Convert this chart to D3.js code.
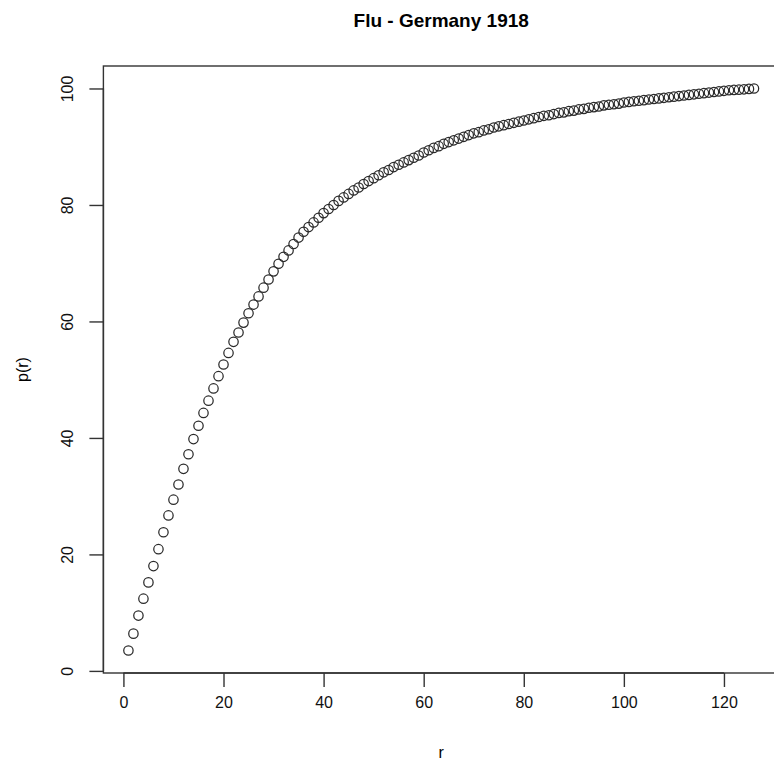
<!DOCTYPE html>
<html>
<head>
<meta charset="utf-8">
<script src="https://cdn.jsdelivr.net/npm/d3@7"></script>
<style>
  html, body { margin: 0; padding: 0; background: #fff; }
  svg { display: block; font-family: "Liberation Sans", Arial, Helvetica, sans-serif; }
</style>
</head>
<body>
<svg id="chart" width="774" height="768"></svg>
<script>
// ---- data ----
const title = "Flu - Germany 1918";
const xLabel = "r";
const yLabel = "p(r)";
const xTicks = [0, 20, 40, 60, 80, 100, 120];
const yTicks = [0, 20, 40, 60, 80, 100];
const pValues = [
  3.5, 6.4, 9.5, 12.4, 15.2, 18.0, 20.9, 23.8, 26.7, 29.4,
  32.0, 34.7, 37.2, 39.8, 42.1, 44.3, 46.4, 48.5, 50.6, 52.6,
  54.6, 56.5, 58.1, 59.8, 61.4, 62.9, 64.3, 65.8, 67.2, 68.6,
  69.9, 71.1, 72.2, 73.3, 74.4, 75.4, 76.2, 77.0, 77.8, 78.6,
  79.3, 80.0, 80.7, 81.3, 81.9, 82.5, 83.0, 83.6, 84.1, 84.6,
  85.1, 85.6, 86.0, 86.5, 86.9, 87.3, 87.7, 88.1, 88.5, 89.0,
  89.4, 89.8, 90.1, 90.5, 90.8, 91.1, 91.4, 91.7, 92.0, 92.3,
  92.5, 92.8, 93.0, 93.3, 93.5, 93.7, 93.9, 94.1, 94.3, 94.5,
  94.7, 94.9, 95.1, 95.3, 95.4, 95.6, 95.8, 95.9, 96.1, 96.2,
  96.4, 96.5, 96.7, 96.8, 96.9, 97.1, 97.2, 97.3, 97.4, 97.6,
  97.7, 97.8, 97.9, 98.0, 98.1, 98.2, 98.3, 98.4, 98.5, 98.6,
  98.7, 98.8, 98.9, 99.0, 99.1, 99.2, 99.3, 99.4, 99.5, 99.6,
  99.7, 99.75, 99.8, 99.85, 99.93, 100.0
];
const rValues = pValues.map((_, i) => i + 1);

// ---- layout ----
const svg = d3.select("#chart");
const box = { left: 103.4, right: 779, top: 66, bottom: 673 };

const xMin = d3.min(rValues), xMax = d3.max(rValues);
const yMin = d3.min(pValues), yMax = d3.max(pValues);
const xPad = (xMax - xMin) * 0.04, yPad = (yMax - yMin) * 0.04;

const x = d3.scaleLinear().domain([xMin - xPad, xMax + xPad]).range([box.left, box.right]);
const y = d3.scaleLinear().domain([yMin - yPad, yMax + yPad]).range([box.bottom, box.top]);

const ink = "#333";

// box
svg.append("rect")
  .attr("x", box.left).attr("y", box.top)
  .attr("width", box.right - box.left).attr("height", box.bottom - box.top)
  .attr("fill", "none").attr("stroke", ink).attr("stroke-width", 1.4);

// x axis
const xAxis = d3.axisBottom(x).tickValues(xTicks).tickSize(14).tickPadding(10).tickFormat(d3.format("d"));
const gx = svg.append("g").attr("transform", `translate(0,${box.bottom})`).call(xAxis);
gx.select(".domain").attr("d", `M${x(xTicks[0])},0H${x(xTicks[xTicks.length-1])}`).attr("stroke", ink).attr("stroke-width", 1.4);
gx.selectAll(".tick line").attr("stroke", ink).attr("stroke-width", 1.4);
gx.selectAll(".tick text").attr("fill", "#111").style("font-size", "16px").style("font-family", "Liberation Sans, Arial, sans-serif");

// y axis
const yAxis = d3.axisLeft(y).tickValues(yTicks).tickSize(14).tickPadding(0).tickFormat(d3.format("d"));
const gy = svg.append("g").attr("transform", `translate(${box.left},0)`).call(yAxis);
gy.select(".domain").attr("d", `M0,${y(yTicks[0])}V${y(yTicks[yTicks.length-1])}`).attr("stroke", ink).attr("stroke-width", 1.4);
gy.selectAll(".tick line").attr("stroke", ink).attr("stroke-width", 1.4);
gy.selectAll(".tick text")
  .attr("fill", "#111").style("font-size", "16px").style("font-family", "Liberation Sans, Arial, sans-serif")
  .attr("x", null)
  .attr("text-anchor", "middle")
  .attr("transform", "translate(-36,0) rotate(-90)")
  .attr("dy", "0.35em");

// points
svg.append("g").selectAll("circle")
  .data(rValues)
  .join("circle")
  .attr("cx", (d) => x(d))
  .attr("cy", (d, i) => y(pValues[i]))
  .attr("r", 4.7)
  .attr("fill", "none")
  .attr("stroke", "#2a2a2a")
  .attr("stroke-width", 1.25);

// title and labels
svg.append("text")
  .attr("x", (box.left + box.right) / 2).attr("y", 27)
  .attr("text-anchor", "middle")
  .style("font-size", "19px").style("font-weight", "bold")
  .text(title);

svg.append("text")
  .attr("x", (box.left + box.right) / 2).attr("y", 758)
  .attr("text-anchor", "middle")
  .style("font-size", "16px")
  .text(xLabel);

svg.append("text")
  .attr("transform", `translate(28,${(box.top + box.bottom) / 2}) rotate(-90)`)
  .attr("text-anchor", "middle")
  .style("font-size", "16px")
  .text(yLabel);
</script>
</body>
</html>
